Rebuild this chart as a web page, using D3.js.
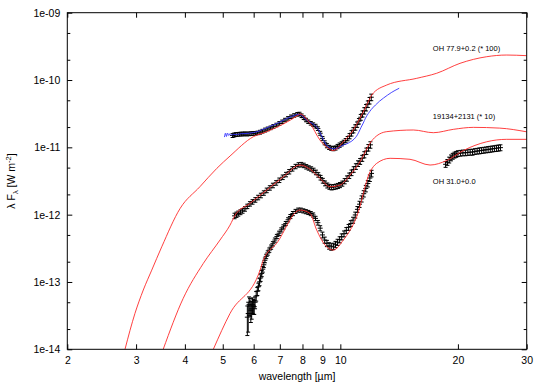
<!DOCTYPE html>
<html>
<head>
<meta charset="utf-8">
<script src="https://cdn.jsdelivr.net/npm/d3@7"></script>
<style>
  html, body { margin: 0; padding: 0; background: #fff; }
  svg { display: block; font-family: "Liberation Sans", Arial, Helvetica, sans-serif; }
</style>
</head>
<body>
<svg id="chart" width="545" height="382"></svg>
<script>
// ---------------- DATA ----------------
const xTicks = [2, 3, 4, 5, 6, 7, 8, 9, 10, 20, 30];
const yTicks = [1e-14, 1e-13, 1e-12, 1e-11, 1e-10, 1e-9];
const yTickLabels = ["1e-14", "1e-13", "1e-12", "1e-11", "1e-10", "1e-09"];
const yMinorMultipliers = [2, 5];

const seriesLabels = ["OH 77.9+0.2 (* 100)", "19134+2131 (* 10)", "OH 31.0+0.0"];
const labelAnchors = [[17.25, 2.74e-10], [17.25, 2.68e-11], [17.25, 2.88e-12]];

// observed spectra: [wavelength (µm), lambda F_lambda (W m^-2), sigma]
const obsOH779 = [
  [5.30,1.50e-11,1.0e-12],[5.35,1.53e-11,1.0e-12],[5.40,1.55e-11,1.0e-12],[5.46,1.56e-11,1.0e-12],
  [5.52,1.57e-11,1.0e-12],[5.58,1.58e-11,1.0e-12],[5.64,1.58e-11,1.0e-12],[5.70,1.59e-11,1.0e-12],
  [5.77,1.58e-11,1.0e-12],[5.84,1.59e-11,1.0e-12],[5.91,1.60e-11,1.0e-12],[5.98,1.61e-11,1.0e-12],
  [6.06,1.62e-11,1.0e-12],[6.14,1.64e-11,1.0e-12],[6.23,1.68e-11,1.1e-12],[6.32,1.74e-11,1.1e-12],
  [6.42,1.81e-11,1.2e-12],[6.52,1.88e-11,1.2e-12],[6.63,1.95e-11,1.2e-12],[6.74,2.05e-11,1.3e-12],
  [6.86,2.15e-11,1.3e-12],[6.98,2.27e-11,1.4e-12],[7.10,2.40e-11,1.4e-12],[7.22,2.55e-11,1.5e-12],
  [7.35,2.70e-11,1.6e-12],[7.48,2.85e-11,1.7e-12],[7.62,2.98e-11,1.8e-12],[7.76,3.10e-11,1.9e-12],
  [7.86,3.13e-11,1.9e-12],[7.96,2.95e-11,1.8e-12],[8.06,2.76e-11,1.7e-12],[8.17,2.55e-11,1.5e-12],
  [8.28,2.40e-11,1.4e-12],[8.40,2.28e-11,1.4e-12],[8.52,2.18e-11,1.3e-12],[8.64,2.07e-11,1.3e-12],
  [8.76,1.90e-11,1.2e-12],[8.88,1.62e-11,1.1e-12],[9.00,1.36e-11,9.0e-13],[9.12,1.17e-11,8.0e-13],
  [9.24,1.06e-11,7.5e-13],[9.36,1.00e-11,7.0e-13],[9.48,9.7e-12,7.0e-13],[9.60,9.6e-12,7.0e-13],
  [9.72,9.8e-12,7.0e-13],[9.84,1.03e-11,7.5e-13],[9.96,1.08e-11,8.0e-13],[10.08,1.13e-11,8.0e-13],
  [10.20,1.19e-11,8.5e-13],[10.32,1.26e-11,9.0e-13],[10.44,1.35e-11,1.0e-12],[10.56,1.47e-11,1.3e-12],
  [10.68,1.62e-11,1.5e-12],[10.80,1.80e-11,1.6e-12],[10.92,1.98e-11,1.8e-12],[11.04,2.18e-11,2.0e-12],
  [11.16,2.45e-11,2.3e-12],[11.28,2.80e-11,2.8e-12],[11.40,3.15e-11,3.3e-12],[11.52,3.50e-11,3.8e-12],
  [11.64,3.90e-11,4.3e-12],[11.76,4.40e-11,4.9e-12],[11.88,4.95e-11,5.5e-12],[12.00,5.55e-11,6.2e-12]
];
const obs19134 = [
  [5.36,9.6e-13,9.0e-14],[5.42,1.00e-12,9.0e-14],[5.48,1.04e-12,9.0e-14],[5.55,1.09e-12,9.0e-14],
  [5.62,1.14e-12,9.0e-14],[5.70,1.22e-12,9.5e-14],[5.78,1.33e-12,1.0e-13],[5.87,1.45e-12,1.1e-13],
  [5.96,1.55e-12,1.2e-13],[6.06,1.66e-12,1.3e-13],[6.16,1.80e-12,1.4e-13],[6.26,1.93e-12,1.5e-13],
  [6.37,2.10e-12,1.6e-13],[6.48,2.30e-12,1.8e-13],[6.60,2.50e-12,1.9e-13],[6.72,2.72e-12,2.1e-13],
  [6.85,2.97e-12,2.3e-13],[6.98,3.25e-12,2.5e-13],[7.12,3.60e-12,2.8e-13],[7.26,3.95e-12,3.0e-13],
  [7.40,4.35e-12,3.3e-13],[7.54,4.80e-12,3.6e-13],[7.68,5.20e-12,3.9e-13],[7.82,5.50e-12,4.1e-13],
  [7.94,5.55e-12,4.2e-13],[8.06,5.40e-12,4.1e-13],[8.18,5.15e-12,3.9e-13],[8.30,4.95e-12,3.7e-13],
  [8.42,4.78e-12,3.6e-13],[8.54,4.55e-12,3.5e-13],[8.66,4.25e-12,3.3e-13],[8.78,3.90e-12,3.0e-13],
  [8.90,3.55e-12,2.8e-13],[9.02,3.20e-12,2.6e-13],[9.14,2.92e-12,2.4e-13],[9.26,2.72e-12,2.3e-13],
  [9.38,2.60e-12,2.2e-13],[9.50,2.55e-12,2.2e-13],[9.62,2.58e-12,2.2e-13],[9.74,2.62e-12,2.2e-13],
  [9.86,2.68e-12,2.3e-13],[9.98,2.76e-12,2.4e-13],[10.12,2.90e-12,2.5e-13],[10.26,3.15e-12,2.8e-13],
  [10.40,3.45e-12,3.1e-13],[10.54,3.80e-12,3.5e-13],[10.68,4.20e-12,4.0e-13],[10.82,4.70e-12,4.5e-13],
  [10.96,5.20e-12,5.0e-13],[11.10,5.75e-12,5.6e-13],[11.24,6.20e-12,6.2e-13],[11.38,6.90e-12,7.0e-13],
  [11.52,7.80e-12,8.2e-13],[11.66,8.80e-12,9.5e-13],[11.80,9.90e-12,1.1e-12],[11.94,1.09e-11,1.2e-12]
];
const obsOH310 = [
  [5.78,3.0e-14,1.4e-14],[5.81,3.4e-14,1.6e-14],[5.84,4.6e-14,1.4e-14],[5.87,4.4e-14,1.3e-14],
  [5.90,3.8e-14,1.3e-14],[5.93,4.0e-14,1.2e-14],[5.96,4.6e-14,1.2e-14],[5.99,4.4e-14,1.1e-14],
  [6.02,4.3e-14,1.0e-14],[6.05,5.0e-14,1.0e-14],[6.09,6.2e-14,1.0e-14],[6.13,7.3e-14,1.0e-14],
  [6.17,8.5e-14,1.1e-14],[6.21,1.00e-13,1.2e-14],[6.25,1.15e-13,1.3e-14],[6.29,1.34e-13,1.4e-14],
  [6.33,1.55e-13,1.5e-14],[6.37,1.80e-13,1.6e-14],[6.41,2.10e-13,1.7e-14],[6.46,2.40e-13,1.8e-14],
  [6.52,2.70e-13,2.0e-14],[6.58,2.98e-13,2.2e-14],[6.65,3.30e-13,2.4e-14],[6.72,3.70e-13,2.7e-14],
  [6.80,4.20e-13,3.0e-14],[6.88,4.75e-13,3.4e-14],[6.97,5.30e-13,3.8e-14],[7.06,5.95e-13,4.2e-14],
  [7.15,6.60e-13,4.7e-14],[7.25,7.40e-13,5.2e-14],[7.35,8.40e-13,5.9e-14],[7.45,9.40e-13,6.6e-14],
  [7.56,1.04e-12,7.3e-14],[7.68,1.12e-12,7.8e-14],[7.80,1.17e-12,8.2e-14],[7.92,1.17e-12,8.2e-14],
  [8.04,1.14e-12,8.0e-14],[8.16,1.11e-12,7.8e-14],[8.28,1.08e-12,7.6e-14],[8.40,1.04e-12,7.3e-14],
  [8.52,9.9e-13,7.0e-14],[8.64,8.8e-13,6.5e-14],[8.76,7.6e-13,6.0e-14],[8.88,6.3e-13,5.5e-14],
  [9.00,5.0e-13,5.0e-14],[9.12,4.2e-13,4.4e-14],[9.24,3.75e-13,4.0e-14],[9.36,3.45e-13,3.8e-14],
  [9.48,3.33e-13,3.7e-14],[9.60,3.40e-13,3.7e-14],[9.72,3.62e-13,3.9e-14],[9.84,3.90e-13,4.1e-14],
  [9.96,4.25e-13,4.4e-14],[10.08,4.70e-13,4.8e-14],[10.22,5.20e-13,5.2e-14],[10.36,5.85e-13,5.8e-14],
  [10.50,6.50e-13,6.5e-14],[10.64,7.40e-13,7.4e-14],[10.78,8.30e-13,8.5e-14],[10.92,9.90e-13,1.0e-13],
  [11.06,1.20e-12,1.2e-13],[11.20,1.43e-12,1.5e-13],[11.34,1.72e-12,1.8e-13],[11.48,2.05e-12,2.2e-13],
  [11.62,2.45e-12,2.7e-13],[11.76,2.90e-12,3.2e-13],[11.90,3.50e-12,3.9e-13],[12.02,4.10e-12,4.6e-13],
  [18.6,5.6e-12,5.5e-13],[18.8,6.0e-12,6.0e-13],[19.0,6.5e-12,6.5e-13],[19.2,7.0e-12,7.0e-13],
  [19.4,7.4e-12,7.4e-13],[19.6,7.7e-12,7.7e-13],[19.8,7.9e-12,7.9e-13],[20.0,8.1e-12,8.0e-13],
  [20.3,8.2e-12,8.0e-13],[20.6,8.3e-12,8.0e-13],[20.9,8.3e-12,8.0e-13],[21.2,8.4e-12,8.0e-13],
  [21.5,8.5e-12,8.5e-13],[21.8,8.5e-12,8.5e-13],[22.1,8.7e-12,8.5e-13],[22.4,8.8e-12,8.5e-13],
  [22.7,8.9e-12,9.0e-13],[23.0,9.0e-12,9.0e-13],[23.3,9.1e-12,9.0e-13],[23.6,9.2e-12,9.0e-13],
  [23.9,9.3e-12,9.5e-13],[24.2,9.4e-12,9.5e-13],[24.5,9.5e-12,9.5e-13],[24.8,9.6e-12,9.5e-13],
  [25.1,9.7e-12,1.0e-12],[25.4,9.8e-12,1.0e-12],[25.7,9.9e-12,1.0e-12]
];

// second (blue) spectrum of OH 77.9+0.2: [wavelength, lambda F_lambda]
const specOH779 = [
  [5.05,1.42e-11],[5.08,1.62e-11],[5.11,1.45e-11],[5.14,1.63e-11],[5.18,1.50e-11],[5.22,1.60e-11],
  [5.26,1.52e-11],[5.32,1.56e-11],[5.40,1.55e-11],[5.50,1.57e-11],[5.60,1.60e-11],[5.70,1.60e-11],
  [5.85,1.62e-11],[6.00,1.66e-11],[6.15,1.72e-11],[6.30,1.82e-11],[6.45,1.92e-11],[6.60,2.04e-11],
  [6.75,2.16e-11],[6.90,2.28e-11],[7.05,2.42e-11],[7.20,2.58e-11],[7.35,2.74e-11],[7.50,2.88e-11],
  [7.65,3.00e-11],[7.80,3.08e-11],[7.90,3.05e-11],[8.00,2.90e-11],[8.15,2.62e-11],[8.30,2.42e-11],
  [8.45,2.28e-11],[8.60,2.14e-11],[8.75,1.92e-11],[8.90,1.60e-11],[9.05,1.30e-11],[9.20,1.10e-11],
  [9.35,1.00e-11],[9.50,9.6e-12],[9.65,9.5e-12],[9.80,9.7e-12],[9.95,1.00e-11],[10.10,1.06e-11],
  [10.25,1.10e-11],[10.40,1.13e-11],[10.55,1.18e-11],[10.70,1.24e-11],[10.85,1.33e-11],[11.00,1.46e-11],
  [11.15,1.68e-11],[11.30,1.98e-11],[11.45,2.30e-11],[11.60,2.72e-11],[11.80,3.20e-11],[12.00,3.65e-11],
  [12.30,4.25e-11],[12.60,4.85e-11],[12.90,5.40e-11],[13.20,5.95e-11],[13.50,6.50e-11],[13.80,7.00e-11],
  [14.15,7.55e-11]
];

// model curves (red): [wavelength, lambda F_lambda]
const modelOH779 = [
  [2.81,1.00e-14],[2.98,3.41e-14],[3.13,7.59e-14],[3.29,1.50e-13],[3.49,3.33e-13],[3.89,1.24e-12],
  [4.37,2.60e-12],[4.83,4.88e-12],[5.22,7.43e-12],[5.99,1.44e-11],[6.48,1.71e-11],[7.81,3.02e-11],
  [7.88,3.13e-11],[8.36,2.28e-11],[8.87,1.28e-11],[9.32,9.66e-12],[9.59,8.95e-12],[10.18,1.21e-11],
  [10.80,1.82e-11],[11.23,2.70e-11],[11.91,5.35e-11],[12.03,5.98e-11],[13.15,8.43e-11],[15.69,1.06e-10],
  [17.65,1.26e-10],[20.25,1.77e-10],[23.7,2.22e-10],[26.67,2.35e-10],[30,2.30e-10]
];
const model19134 = [
  [3.52,1.00e-14],[3.96,5.70e-14],[4.46,1.89e-13],[4.92,4.20e-13],[5.22,7.00e-13],[5.38,9.86e-13],
  [5.87,1.47e-12],[6.48,2.32e-12],[7.15,3.66e-12],[7.88,5.46e-12],[8.36,4.75e-12],[8.87,3.46e-12],
  [9.41,2.60e-12],[9.98,2.75e-12],[10.59,3.87e-12],[11.23,6.11e-12],[11.91,1.15e-11],[12.10,1.30e-11],
  [13.15,1.71e-11],[15.38,1.81e-11],[17.3,1.65e-11],[19.46,1.85e-11],[21.9,1.98e-11],[25.6,1.93e-11],
  [30,1.70e-11]
];
const modelOH310 = [
  [4.73,1.00e-14],[5.22,3.41e-14],[6.23,1.50e-13],[6.35,2.11e-13],[6.87,3.75e-13],[7.88,1.17e-12],
  [8.36,1.045e-12],[8.70,5.90e-13],[9.14,3.53e-13],[9.59,2.98e-13],[10.18,4.20e-13],[11.01,9.31e-13],
  [11.91,4.30e-12],[12.39,5.78e-12],[13.41,6.87e-12],[15.08,6.64e-12],[16.97,5.46e-12],[18.72,6.37e-12],
  [20.64,8.95e-12],[23.7,1.21e-11],[26.67,1.315e-11],[30,1.315e-11]
];

// ---------------- DRAWING ----------------
const plot = { left: 67.3, right: 526.7, top: 12.7, bottom: 349.3 };
const svg = d3.select("#chart");

const x = d3.scaleLog().domain([2, 30]).range([plot.left, plot.right]);
const y = d3.scaleLog().domain([1e-14, 1e-9]).range([plot.bottom, plot.top]);

svg.append("defs").append("clipPath").attr("id", "clip")
  .append("rect")
  .attr("x", plot.left).attr("y", plot.top)
  .attr("width", plot.right - plot.left).attr("height", plot.bottom - plot.top);

const minorY = [];
yTicks.slice(0, -1).forEach(t => yMinorMultipliers.forEach(m => minorY.push(t * m)));

function styleAxis(g) {
  g.select(".domain").remove();
  g.selectAll(".tick line").attr("stroke", "#000").attr("stroke-width", 1);
  g.selectAll(".tick text").attr("fill", "#000").attr("font-size", "10.5px")
    .attr("font-family", '"Liberation Sans", Arial, sans-serif');
}

svg.append("g").attr("transform", `translate(0,${plot.bottom})`)
  .call(d3.axisBottom(x).tickValues(xTicks).tickFormat(d => String(d))
    .tickSizeInner(-5).tickSizeOuter(0).tickPadding(7))
  .call(styleAxis);
svg.append("g").attr("transform", `translate(0,${plot.top})`)
  .call(d3.axisTop(x).tickValues(xTicks).tickFormat("").tickSizeInner(-5).tickSizeOuter(0))
  .call(styleAxis);
svg.append("g").attr("transform", `translate(${plot.left},0)`)
  .call(d3.axisLeft(y).tickValues(yTicks).tickFormat((d, i) => yTickLabels[i])
    .tickSizeInner(-5).tickSizeOuter(0).tickPadding(7))
  .call(styleAxis);
svg.append("g").attr("transform", `translate(${plot.left},0)`)
  .call(d3.axisLeft(y).tickValues(minorY).tickFormat("").tickSizeInner(-3).tickSizeOuter(0))
  .call(styleAxis);
svg.append("g").attr("transform", `translate(${plot.right},0)`)
  .call(d3.axisRight(y).tickValues(yTicks).tickFormat("").tickSizeInner(-5).tickSizeOuter(0))
  .call(styleAxis);
svg.append("g").attr("transform", `translate(${plot.right},0)`)
  .call(d3.axisRight(y).tickValues(minorY).tickFormat("").tickSizeInner(-3).tickSizeOuter(0))
  .call(styleAxis);

const plotG = svg.append("g").attr("clip-path", "url(#clip)");

function drawObs(data) {
  const g = plotG.append("g").attr("stroke", "#000").attr("stroke-width", 1).attr("fill", "none");
  data.forEach(([lam, f, s]) => {
    const cx = x(lam), cy = y(f);
    const lo = y(f - s);
    const hi = y(f + s);
    g.append("line").attr("x1", cx).attr("x2", cx).attr("y1", lo).attr("y2", hi);
    g.append("line").attr("x1", cx - 2).attr("x2", cx + 2).attr("y1", lo).attr("y2", lo);
    g.append("line").attr("x1", cx - 2).attr("x2", cx + 2).attr("y1", hi).attr("y2", hi);
    g.append("line").attr("x1", cx - 2.5).attr("x2", cx + 2.5).attr("y1", cy).attr("y2", cy);
  });
}
drawObs(obsOH779);
drawObs(obs19134);
drawObs(obsOH310);

const line = d3.line().x(d => x(d[0])).y(d => y(d[1])).curve(d3.curveMonotoneX);

plotG.append("path").datum(specOH779).attr("d", line)
  .attr("fill", "none").attr("stroke", "#3333ff").attr("stroke-width", 0.9);

[modelOH779, model19134, modelOH310].forEach(m => {
  plotG.append("path").datum(m).attr("d", line)
    .attr("fill", "none").attr("stroke", "#ff2a2a").attr("stroke-width", 0.9);
});

svg.append("rect").attr("x", plot.left).attr("y", plot.top)
  .attr("width", plot.right - plot.left).attr("height", plot.bottom - plot.top)
  .attr("fill", "none").attr("stroke", "#000").attr("stroke-width", 1);

seriesLabels.forEach((t, i) => {
  svg.append("text").attr("x", x(labelAnchors[i][0])).attr("y", y(labelAnchors[i][1]))
    .attr("font-size", "7.5px").attr("fill", "#000").text(t);
});

svg.append("text").attr("x", (plot.left + plot.right) / 2).attr("y", 380)
  .attr("text-anchor", "middle").attr("font-size", "10.5px").attr("fill", "#000")
  .text("wavelength [µm]");

const yt = svg.append("text")
  .attr("transform", `translate(15,${(plot.top + plot.bottom) / 2}) rotate(-90)`)
  .attr("text-anchor", "middle").attr("font-size", "10.5px").attr("fill", "#000");
yt.append("tspan").text("λ F");
yt.append("tspan").attr("font-size", "7.5px").attr("dy", "3").text("λ");
yt.append("tspan").attr("dy", "-3").text(" [W m");
yt.append("tspan").attr("font-size", "7.5px").attr("dy", "-4").text("-2");
yt.append("tspan").attr("dy", "4").text("]");
</script>
</body>
</html>
